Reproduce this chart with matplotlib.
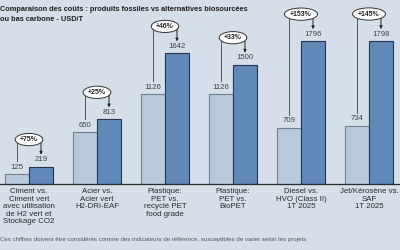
import matplotlib
matplotlib.use("Agg")
import matplotlib.pyplot as plt
import numpy as np

plt.rcParams["font.family"] = ["Liberation Sans", "DejaVu Sans"]

categories = [
    "Ciment vs.\nCiment vert\navec utilisation\nde H2 vert et\nStockage CO2",
    "Acier vs.\nAcier vert\nH2-DRI-EAF",
    "Plastique:\nPET vs.\nrecyclé PET\nfood grade",
    "Plastique:\nPET vs.\nBioPET",
    "Diesel vs.\nHVO (Class II)\n1T 2025",
    "Jet/Kérosène vs.\nSAF\n1T 2025",
]
fossil = [125, 650, 1126, 1126, 709, 734]
green = [219, 813, 1642, 1500, 1796, 1798]
pct_labels = ["+75%", "+25%", "+46%", "+33%", "+153%", "+145%"]

title = "Comparaison des coûts : produits fossiles vs alternatives biosourcées\nou bas carbone - USD/T"
footnote = "Ces chiffres doivent être considérés comme des indicateurs de référence, susceptibles de varier selon les projets"

BG = "#d5dfea"
LIGHT = "#b8c9db"
DARK = "#6189b8"

W, H, DPI = 4.0, 2.5, 100
fig = plt.figure(figsize=(W, H), dpi=DPI, facecolor=BG)

ax_bottom_px = 184
ax_top_px = 8
ax = fig.add_axes([0, (250 - ax_bottom_px) / 250, 1, (ax_bottom_px - ax_top_px) / 250])
ax.set_facecolor(BG)

px_per_unit = 143 / 1798.0
ymax = (ax_bottom_px - ax_top_px) / px_per_unit
u = 1 / px_per_unit  # data units per pixel

x = np.arange(len(categories))
bw = 24 / 68.0
ax.bar(x - bw / 2, fossil, bw, color=LIGHT, edgecolor="#6f7f90", linewidth=0.8, zorder=2)
ax.bar(x + bw / 2, green, bw, color=DARK, edgecolor="#233550", linewidth=0.8, zorder=2)

ax.set_xlim(-29 / 68.0, 5 + 31 / 68.0)
ax.set_ylim(0, ymax)
for s in ["top", "left", "right"]:
    ax.spines[s].set_visible(False)
ax.spines["bottom"].set_color("#2a2a2a")
ax.spines["bottom"].set_linewidth(0.9)
ax.set_yticks([])
ax.set_xticks(x)
ax.set_xticklabels(categories, fontsize=5.7, color="#2b2b2b", linespacing=1.1, va="top")
ax.tick_params(axis="x", length=0, pad=3)

lc = "#555555"
for i in range(len(categories)):
    f, g = fossil[i], green[i]
    yf = f + 7 * u
    yg = g + 7 * u
    ax.text(i - bw / 2, yf, str(f), ha="center", va="center", fontsize=5.6, color="#444444")
    ax.text(i + bw / 2, yg, str(g), ha="center", va="center", fontsize=5.6, color="#444444")
    ye = yg + 20 * u
    ax.plot([i - bw / 2, i - bw / 2], [ye, yf + 6 * u], color=lc, lw=0.7, zorder=1)
    ax.annotate("", xy=(i + bw / 2, yg + 5 * u), xytext=(i + bw / 2, ye),
                arrowprops=dict(arrowstyle="-|>", color="#222222", lw=0.7,
                                mutation_scale=4, shrinkA=0, shrinkB=0), zorder=1)
    ax.text(i, ye, pct_labels[i], ha="center", va="center", fontsize=5.0,
            fontweight="bold", color="#222222", zorder=4,
            bbox=dict(boxstyle="ellipse,pad=0.12", fc="white", ec="#333333", lw=0.7))

fig.text(0.0, 1 - 6 / 250, title, ha="left", va="top", fontsize=5.3, fontweight="bold",
         color="#1f1f1f", linespacing=1.6)
fig.text(0.0, 1 - 239 / 250, footnote, ha="left", va="center", fontsize=4.45, color="#555555")

fig.savefig("out.png", dpi=DPI, facecolor=BG)
